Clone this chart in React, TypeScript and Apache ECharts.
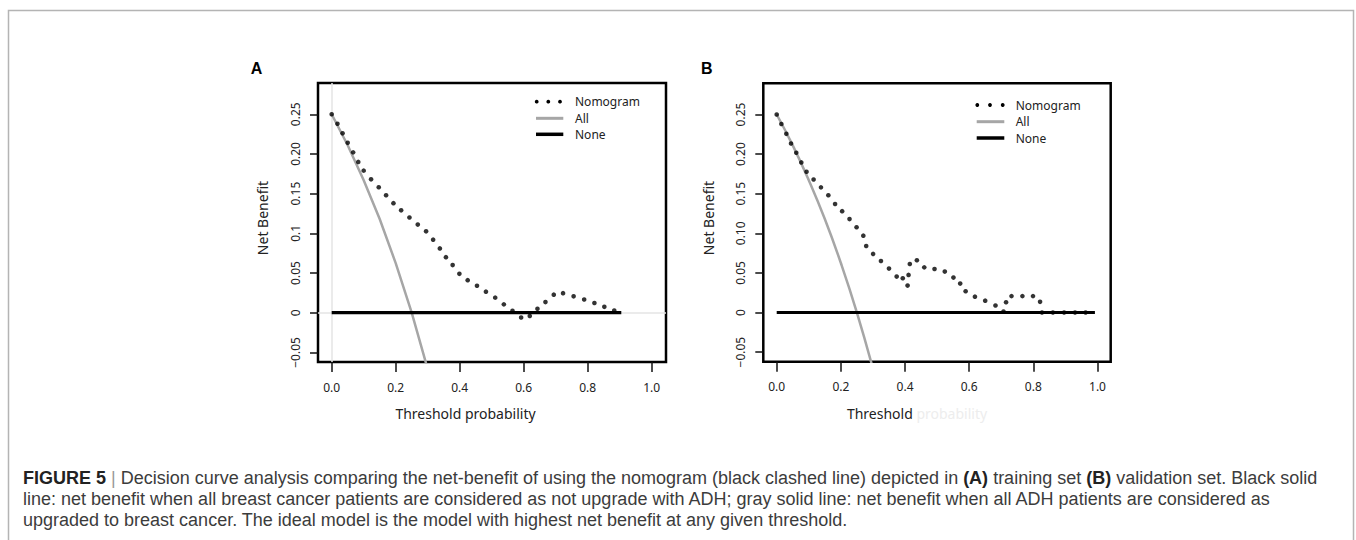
import React, { useEffect, useRef } from "react";
import * as echarts from "echarts";

// ---------- data ----------
const xTicks = [0, 0.2, 0.4, 0.6, 0.8, 1.0];
const yTicks = [-0.05, 0, 0.05, 0.1, 0.15, 0.2, 0.25];
const yTickLabelsA = ["\u22120.05", "0", "0.05", "0.1", "0.15", "0.20", "0.25"];
const yTickLabelsB = ["\u22120.05", "0", "0.05", "0.10", "0.15", "0.20", "0.25"];

const legendNames = ["Nomogram", "All", "None"];

// Panel A (training set)
const nomoAx = [0, 0.018, 0.034, 0.05, 0.067, 0.083, 0.1, 0.123, 0.147, 0.17, 0.193, 0.217, 0.243, 0.269, 0.295, 0.317, 0.338, 0.357, 0.378, 0.399, 0.425, 0.454, 0.482, 0.511, 0.538, 0.565, 0.592, 0.619, 0.643, 0.668, 0.694, 0.723, 0.756, 0.789, 0.821, 0.852, 0.883];
const nomoAy = [0.25, 0.238, 0.226, 0.214, 0.202, 0.19, 0.179, 0.168, 0.158, 0.148, 0.138, 0.129, 0.12, 0.111, 0.1025, 0.092, 0.081, 0.07, 0.06, 0.049, 0.041, 0.034, 0.0265, 0.019, 0.0105, 0.0025, -0.006, -0.004, 0.005, 0.0134, 0.0227, 0.0246, 0.0206, 0.0166, 0.0122, 0.0074, 0.0027];
const allAx = [0, 0.05, 0.1, 0.15, 0.2, 0.25, 0.3];
const allAy = [0.25, 0.211, 0.167, 0.118, 0.0625, 0, -0.071];
const noneAx = [0, 0.905];
const noneAy = [0, 0];

// Panel B (validation set)
const nomoBx = [0, 0.0145, 0.03, 0.0446, 0.061, 0.0767, 0.093, 0.115, 0.138, 0.161, 0.182, 0.204, 0.227, 0.249, 0.27, 0.279, 0.3005, 0.325, 0.35, 0.374, 0.393, 0.408, 0.411, 0.415, 0.437, 0.46, 0.492, 0.524, 0.551, 0.572, 0.589, 0.618, 0.65, 0.682, 0.707, 0.715, 0.732, 0.766, 0.799, 0.821, 0.827, 0.861, 0.896, 0.93, 0.963];
const nomoBy = [0.25, 0.238, 0.2256, 0.2134, 0.2017, 0.1895, 0.1777, 0.168, 0.158, 0.148, 0.137, 0.128, 0.118, 0.1076, 0.097, 0.084, 0.074, 0.065, 0.0555, 0.0454, 0.0433, 0.034, 0.0475, 0.0613, 0.066, 0.057, 0.055, 0.0517, 0.0441, 0.0365, 0.0268, 0.02, 0.015, 0.0088, 0.0012, 0.013, 0.0207, 0.0207, 0.0207, 0.0135, 0, 0, 0, 0, 0];
const allBx = [0, 0.05, 0.1, 0.15, 0.2, 0.25, 0.3];
const allBy = [0.25, 0.211, 0.167, 0.118, 0.0625, 0, -0.071];
const noneBx = [0, 0.992];
const noneBy = [0, 0];

const zip = (xs: number[], ys: number[]) => xs.map((x, i) => [x, ys[i]]);

const PLOT_FONT = "'Noto Sans', 'Open Sans', sans-serif";
const CAP_FONT = "'Liberation Sans', Arial, sans-serif";
const GRAY = "#a6a6a6";

function tickLabel(labels: string[]) {
  return (v: number) => {
    const i = yTicks.findIndex((t) => Math.abs(t - v) < 1e-9);
    return i >= 0 ? labels[i] : "";
  };
}

function xAxisFor(gridIndex: number, min: number, max: number) {
  return {
    type: "value",
    gridIndex,
    position: "bottom",
    min,
    max,
    axisLine: { show: false, onZero: false },
    splitLine: { show: false },
    axisTick: {
      show: true,
      inside: false,
      length: 10,
      customValues: xTicks,
      lineStyle: { color: "#111", width: 1.5 },
    },
    axisLabel: {
      customValues: xTicks,
      formatter: (v: number) => v.toFixed(1),
      margin: 19,
      fontFamily: PLOT_FONT,
      fontSize: 12,
      color: "#222",
    },
  };
}

function yAxisFor(gridIndex: number, labels: string[]) {
  return {
    type: "value",
    gridIndex,
    position: "left",
    min: -0.0621,
    max: 0.2894,
    axisLine: { show: false, onZero: false },
    splitLine: { show: false },
    axisTick: {
      show: true,
      inside: false,
      length: 8,
      customValues: yTicks,
      lineStyle: { color: "#111", width: 1.5 },
    },
    axisLabel: {
      customValues: yTicks,
      formatter: tickLabel(labels),
      rotate: 90,
      margin: 17,
      fontFamily: PLOT_FONT,
      fontSize: 12,
      color: "#222",
    },
  };
}

function legendGraphics(dotXs: number[], lx1: number, lx2: number, tx: number, ys: number[]) {
  const els: any[] = [];
  dotXs.forEach((cx) =>
    els.push({ type: "circle", shape: { cx, cy: ys[0], r: 1.9 }, style: { fill: "#000" }, silent: true })
  );
  els.push({ type: "line", shape: { x1: lx1, y1: ys[1], x2: lx2, y2: ys[1] }, style: { stroke: GRAY, lineWidth: 3 }, silent: true });
  els.push({ type: "line", shape: { x1: lx1, y1: ys[2], x2: lx2, y2: ys[2] }, style: { stroke: "#000", lineWidth: 3.5 }, silent: true });
  legendNames.forEach((name, i) =>
    els.push({
      type: "text",
      x: tx,
      y: ys[i],
      style: { text: name, fontFamily: PLOT_FONT, fontSize: 12, fill: "#222", verticalAlign: "middle", align: "left" },
      silent: true,
    })
  );
  return els;
}

export default function App() {
  const ref = useRef<HTMLDivElement>(null);

  useEffect(() => {
    if (!ref.current) return;
    const chart = echarts.init(ref.current, undefined, { renderer: "svg" });

    const capY = [478, 499, 519.5];
    const capStyle = { fontFamily: CAP_FONT, fontSize: 18, fill: "#3c3c3c", verticalAlign: "middle", align: "left" };

    const option: any = {
      animation: false,
      backgroundColor: "#fff",
      grid: [
        { left: 318, top: 83, width: 348, height: 279, show: true, borderColor: "#000", borderWidth: 2.5, backgroundColor: "transparent", containLabel: false },
        { left: 763.3, top: 83.3, width: 347.4, height: 278.4, show: true, borderColor: "#000", borderWidth: 2.5, backgroundColor: "transparent", containLabel: false },
      ],
      xAxis: [xAxisFor(0, -0.0428, 1.0447), xAxisFor(1, -0.0418, 1.0412)],
      yAxis: [yAxisFor(0, yTickLabelsA), yAxisFor(1, yTickLabelsB)],
      series: [
        {
          name: "All",
          type: "line",
          xAxisIndex: 0,
          yAxisIndex: 0,
          data: zip(allAx, allAy),
          showSymbol: false,
          clip: true,
          lineStyle: { color: GRAY, width: 2.5 },
          z: 2,
          markLine: {
            silent: true,
            symbol: "none",
            z: 1,
            label: { show: false },
            lineStyle: { color: "#e4e4e4", width: 1.5, type: "solid" },
            data: [{ xAxis: 0 }, { yAxis: 0 }],
          },
        },
        {
          name: "None",
          type: "line",
          xAxisIndex: 0,
          yAxisIndex: 0,
          data: zip(noneAx, noneAy),
          showSymbol: false,
          lineStyle: { color: "#000", width: 3.2 },
          z: 3,
        },
        {
          name: "Nomogram",
          type: "scatter",
          xAxisIndex: 0,
          yAxisIndex: 0,
          data: zip(nomoAx, nomoAy),
          symbolSize: 4.6,
          itemStyle: { color: "#000" },
          z: 4,
        },
        {
          name: "All",
          type: "line",
          xAxisIndex: 1,
          yAxisIndex: 1,
          data: zip(allBx, allBy),
          showSymbol: false,
          smooth: true,
          clip: true,
          lineStyle: { color: GRAY, width: 2.5 },
          z: 2,
        },
        {
          name: "None",
          type: "line",
          xAxisIndex: 1,
          yAxisIndex: 1,
          data: zip(noneBx, noneBy),
          showSymbol: false,
          lineStyle: { color: "#000", width: 3.2 },
          z: 3,
        },
        {
          name: "Nomogram",
          type: "scatter",
          xAxisIndex: 1,
          yAxisIndex: 1,
          data: zip(nomoBx, nomoBy),
          symbolSize: 4.6,
          itemStyle: { color: "#000" },
          z: 4,
        },
      ],
      graphic: [
        {
          type: "rect",
          shape: { x: 8.5, y: 10.5, width: 1345, height: 700 },
          style: { fill: "none", stroke: "#b4b4b4", lineWidth: 1.5 },
          silent: true,
        },
        // panel letters
        { type: "text", x: 256.5, y: 68, style: { text: "A", fontFamily: CAP_FONT, fontWeight: "bold", fontSize: 16, fill: "#000", align: "center", verticalAlign: "middle" } },
        { type: "text", x: 706.7, y: 68, style: { text: "B", fontFamily: CAP_FONT, fontWeight: "bold", fontSize: 16, fill: "#000", align: "center", verticalAlign: "middle" } },
        // axis titles
        { type: "text", x: 262, y: 218, rotation: Math.PI / 2, style: { text: "Net Benefit", fontFamily: PLOT_FONT, fontSize: 14, fill: "#222", align: "center", verticalAlign: "middle" } },
        { type: "text", x: 708.3, y: 218, rotation: Math.PI / 2, style: { text: "Net Benefit", fontFamily: PLOT_FONT, fontSize: 14, fill: "#222", align: "center", verticalAlign: "middle" } },
        { type: "text", x: 465.5, y: 413, style: { text: "Threshold probability", fontFamily: PLOT_FONT, fontSize: 14, fill: "#222", align: "center", verticalAlign: "middle" } },
        {
          type: "text",
          x: 917,
          y: 413,
          style: {
            text: "{a|Threshold} {b|probability}",
            fontFamily: PLOT_FONT,
            fontSize: 14,
            align: "center",
            verticalAlign: "middle",
            rich: {
              a: { fontFamily: PLOT_FONT, fontSize: 14, fill: "#222" },
              b: { fontFamily: PLOT_FONT, fontSize: 14, fill: "#ededed" },
            },
          },
        },
        // legends
        ...legendGraphics([536.7, 548.3, 560], 536, 563.3, 575, [101.7, 118.3, 134.3]),
        ...legendGraphics([977.3, 990, 1002.7], 976.7, 1004.3, 1015.7, [105, 121.7, 138]),
        // caption
        {
          type: "text",
          x: 23,
          y: capY[0],
          style: {
            ...capStyle,
            text: "{b|FIGURE 5} {p||} Decision curve analysis comparing the net-benefit of using the nomogram (black clashed line) depicted in {b|(A)} training set {b|(B)} validation set. Black solid",
            rich: {
              b: { fontFamily: CAP_FONT, fontSize: 18, fontWeight: "bold", fill: "#222" },
              p: { fontFamily: CAP_FONT, fontSize: 18, fill: "#999" },
            },
          },
        },
        {
          type: "text",
          x: 23,
          y: capY[1],
          style: { ...capStyle, text: "line: net benefit when all breast cancer patients are considered as not upgrade with ADH; gray solid line: net benefit when all ADH patients are considered as" },
        },
        {
          type: "text",
          x: 23,
          y: capY[2],
          style: { ...capStyle, text: "upgraded to breast cancer. The ideal model is the model with highest net benefit at any given threshold." },
        },
      ],
    };

    chart.setOption(option);
    return () => chart.dispose();
  }, []);

  return <div ref={ref} style={{ position: "absolute", left: 0, top: 0, width: 1356, height: 540 }} />;
}
